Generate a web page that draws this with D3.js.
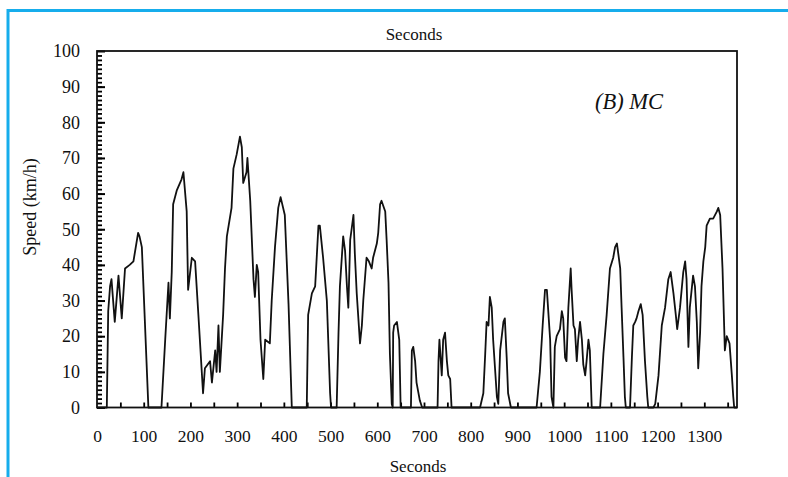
<!DOCTYPE html>
<html>
<head>
<meta charset="utf-8">
<script src="https://cdn.jsdelivr.net/npm/d3@7"></script>
<style>
body { margin: 0; background: #fff; }
text { font-family: "Liberation Serif", "Times New Roman", serif; fill: #111; }
</style>
</head>
<body>
<script>
// speed trace (seconds, km/h)
let seconds = [0,21,24,28,31,38,46,53,60,70,78,88,91,96,110,
    138,146,153,156,160,163,171,181,185,192,195,203,210,217,227,231,242,246,253,256,260,263,270,274,278,288,292,299,306,310,313,320,322,328,335,338,342,345,350,356,360,370,374,381,388,393,402,410,417,
    449,452,460,467,474,477,484,492,499,501,
    513,517,520,524,527,531,535,538,542,545,549,552,556,563,567,570,577,582,588,591,599,602,606,609,617,620,624,627,631,633,
    634,636,642,647,650,
    672,674,677,681,684,691,696,
    729,731,733,736,738,741,745,749,752,756,759,
    820,827,831,834,838,841,845,848,852,856,859,863,870,873,877,880,886,
    941,948,954,959,963,970,973,977,980,984,991,995,998,1002,1005,1009,1014,1016,1020,1023,1027,1030,1034,1038,1041,1045,1048,1052,1055,1059,
    1077,1084,1091,1098,1105,1109,1113,1116,1120,1123,1127,1130,1132,
    1141,1145,1148,1152,1155,1159,1164,1168,1173,1178,1180,
    1191,1195,1202,1209,1216,1223,1228,1234,1239,1242,1248,1255,1259,1262,1266,1269,1276,1280,1284,1287,1291,1294,1298,1302,1305,1312,1319,1327,1330,1334,1339,1344,1348,1354,1359,1362,1364,1370]
let speed = [0,0,27,34,36,24,37,25,39,40,41,49,48,45,0,
    0,19,35,25,38,57,61,64,66,55,33,42,41,26,4,11,13,7,16,10,23,10,26,39,48,56,67,71,76,73,63,66,70,58,36,31,40,38,19,8,19,18,30,45,56,59,54,29,0,
    0,26,32,34,51,51,42,30,4,0,
    0,21,34,42,48,44,34,28,47,50,54,43,32,18,23,30,42,41,39,42,46,49,57,58,55,47,35,15,1,0,
    21,23,24,19,0,
    0,16,17,13,7,2,0,
    0,13,19,13,9,19,21,13,9,8,0,
    0,4,15,24,23,31,28,19,11,3,1,16,24,25,14,4,0,
    0,10,23,33,33,19,3,0,17,20,22,27,25,14,13,28,39,33,23,22,13,19,24,19,12,9,13,19,16,0,
    0,15,26,39,42,45,46,43,39,28,14,3,0,
    0,14,23,24,25,27,29,26,13,3,0,
    0,1,9,23,28,36,38,32,26,22,28,38,41,36,17,28,37,34,24,11,21,34,41,45,51,53,53,55,56,54,39,16,20,18,9,3,0,0]
let xLabels = [0,100,200,300,400,500,600,700,800,900,1000,1100,1200,1300]
let yLabels = [0,10,20,30,40,50,60,70,80,90,100]

let w = 788
let h = 477
let mLeft = 97, mRight = 737, mTop = 51, mBottom = 407.5

let svg = d3.select("body")
    .append("svg")
    .attr("width", w)
    .attr("height", h)

// blue border of the page
svg.append("path")
    .attr("d", "M8,477 L8,10.5 L788,10.5")
    .attr("fill", "none")
    .attr("stroke", "#16adec")
    .attr("stroke-width", 3)

let x = d3.scaleLinear().domain([0, 1370]).range([mLeft, mRight])
let y = d3.scaleLinear().domain([0, 100]).range([mBottom, mTop])

// minor ticks, inward
svg.append("g")
    .attr("transform", `translate(${mLeft},0)`)
    .call(d3.axisLeft(y).tickValues(d3.range(0, 100, 1.25)).tickSize(-5).tickFormat(""))
    .call(g => g.select(".domain").remove())
    .selectAll("line").attr("stroke", "#000").attr("stroke-width", 1.8)
svg.append("g")
    .attr("transform", `translate(${mLeft},0)`)
    .call(d3.axisLeft(y).tickValues(yLabels).tickSize(-8).tickPadding(17).tickFormat(d3.format("d")))
    .call(g => g.select(".domain").remove())
    .call(g => g.selectAll("text").style("font-size", "18px").attr("fill", "#111"))
    .selectAll("line").attr("stroke", "#000").attr("stroke-width", 2)

svg.append("g")
    .attr("transform", `translate(0,${mBottom})`)
    .call(d3.axisBottom(x).tickValues(d3.range(50, 1370, 50)).tickSize(-5).tickFormat(""))
    .call(g => g.select(".domain").remove())
    .selectAll("line").attr("stroke", "#000").attr("stroke-width", 1.8)
svg.append("g")
    .attr("transform", `translate(0,${mBottom})`)
    .call(d3.axisBottom(x).tickValues(xLabels).tickSize(0).tickPadding(22).tickFormat(d3.format("d")))
    .call(g => g.select(".domain").remove())
    .call(g => g.selectAll("text").style("font-size", "17.5px").attr("fill", "#111"))

// frame
svg.append("rect")
    .attr("x", mLeft).attr("y", mTop)
    .attr("width", mRight - mLeft).attr("height", mBottom - mTop)
    .attr("fill", "none")
    .attr("stroke", "#111")
    .attr("stroke-width", 1.8)

let line = d3.line()
    .x((d, i) => x(seconds[i]))
    .y(d => y(d))

svg.append("path")
    .datum(speed)
    .attr("d", line)
    .attr("fill", "none")
    .attr("stroke", "#111")
    .attr("stroke-width", 1.8)
    .attr("stroke-linejoin", "round")

svg.append("text")
    .attr("x", 414).attr("y", 40)
    .attr("text-anchor", "middle")
    .style("font-size", "17px")
    .text("Seconds")
svg.append("text")
    .attr("x", 418).attr("y", 472)
    .attr("text-anchor", "middle")
    .style("font-size", "17px")
    .text("Seconds")
svg.append("text")
    .attr("transform", "translate(36,207) rotate(-90)")
    .attr("text-anchor", "middle")
    .style("font-size", "18px")
    .text("Speed (km/h)")
svg.append("text")
    .attr("x", 629).attr("y", 109)
    .attr("text-anchor", "middle")
    .style("font-size", "22.5px")
    .style("font-style", "italic")
    .text("(B) MC")
</script>
</body>
</html>
